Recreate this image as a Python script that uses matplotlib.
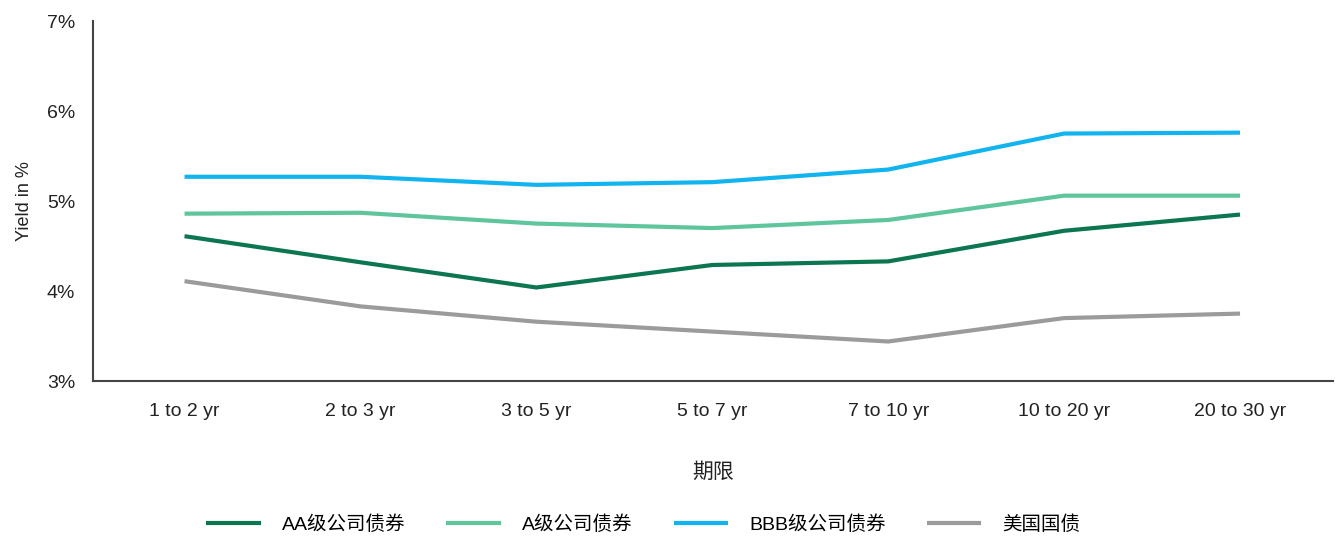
import matplotlib.pyplot as plt
import numpy as np

plt.rcParams['font.family'] = ['Liberation Sans', 'Noto Sans CJK SC', 'DejaVu Sans']

terms = ["1 to 2 yr", "2 to 3 yr", "3 to 5 yr", "5 to 7 yr", "7 to 10 yr", "10 to 20 yr", "20 to 30 yr"]
aa = [4.61, 4.32, 4.04, 4.29, 4.33, 4.67, 4.85]
a = [4.86, 4.87, 4.75, 4.70, 4.79, 5.06, 5.06]
bbb = [5.27, 5.27, 5.18, 5.21, 5.35, 5.75, 5.76]
ust = [4.11, 3.83, 3.66, 3.55, 3.44, 3.70, 3.75]

names = ["AA级公司债券", "A级公司债券", "BBB级公司债券", "美国国债"]
colors = ["#0b7650", "#5fc59c", "#11b4ee", "#9b9b9b"]

fig = plt.figure(figsize=(13.35, 5.46), dpi=100)
ax = fig.add_axes([0.0697, 0.302, 0.929, 0.6595])

x = np.arange(len(terms))
for vals, name, c in zip([aa, a, bbb, ust], names, colors):
    ax.plot(x, vals, color=c, lw=3, label=name, solid_capstyle='butt')

ax.set_xlim(-0.52, 6.53)
ax.set_ylim(3, 7)
ax.set_yticks([3, 4, 5, 6, 7])
ax.set_yticklabels([f"{v}%" for v in [3, 4, 5, 6, 7]], fontsize=14, color="#222222")
ax.set_xticks(x)
ax.set_xticklabels(terms, fontsize=14, color="#222222")
ax.tick_params(axis='x', length=0, pad=16)
ax.tick_params(axis='y', length=0, pad=13)

for s in ["top", "right"]:
    ax.spines[s].set_visible(False)
for s in ["left", "bottom"]:
    ax.spines[s].set_color("#444444")
    ax.spines[s].set_linewidth(1.5)

ax.set_ylabel("Yield in %", fontsize=13, color="#222222", labelpad=10)
ax.set_xlabel("期限", fontsize=15, color="#222222", labelpad=30)

fig.legend(loc="center", bbox_to_anchor=(0.482, 0.04), ncol=4, frameon=False,
           fontsize=14, handlelength=2.8, columnspacing=2.1, handletextpad=1.1)

fig.savefig("out.png", dpi=100)
